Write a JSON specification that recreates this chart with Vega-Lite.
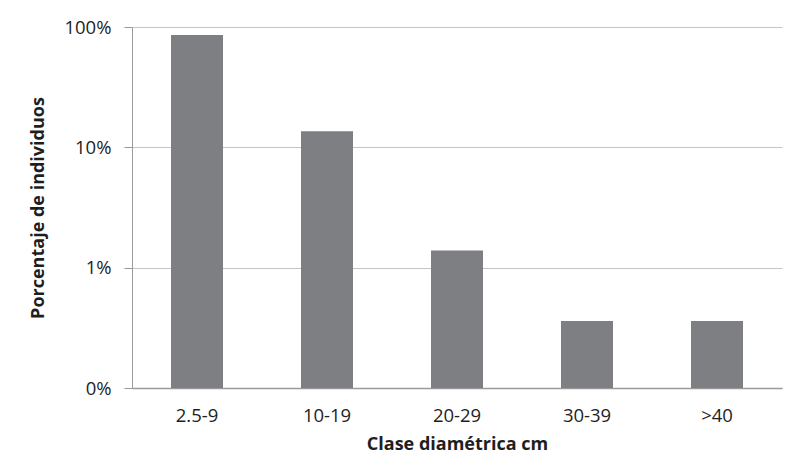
{
  "$schema": "https://vega.github.io/schema/vega-lite/v6.json",
  "width": 650,
  "height": 361,
  "autosize": {"type": "none"},
  "padding": {"left": 132, "top": 27, "right": 4, "bottom": 86},
  "background": "white",
  "data": {"values": [
    {"clase": "2.5-9", "pct": 0.858},
    {"clase": "10-19", "pct": 0.136},
    {"clase": "20-29", "pct": 0.0139},
    {"clase": "30-39", "pct": 0.0036},
    {"clase": ">40", "pct": 0.0036}
  ]},
  "mark": {"type": "bar", "color": "#7e7f83"},
  "encoding": {
    "x": {
      "field": "clase", "type": "nominal", "sort": null,
      "scale": {"paddingInner": 0.6, "paddingOuter": 0.3},
      "axis": {
        "title": "Clase diamétrica cm", "labelAngle": 0, "ticks": false,
        "labelFontSize": 18.5, "labelColor": "#1e1e1e", "labelPadding": 18,
        "titleFontSize": 18, "titleFontWeight": "bold", "titleColor": "#1e1e1e", "titlePadding": 11,
        "domainColor": "#9a9a9a", "domainWidth": 1.5, "grid": false,
        "labelFont": "Open Sans", "titleFont": "Open Sans"
      }
    },
    "y": {
      "field": "pct", "type": "quantitative",
      "scale": {"type": "log", "domain": [0.001, 1], "nice": false},
      "axis": {
        "title": "Porcentaje de individuos", "values": [0.001, 0.01, 0.1, 1], "format": ".0%",
        "labelFontSize": 18.5, "labelColor": "#1e1e1e", "labelPadding": 13,
        "tickSize": 8, "tickColor": "#9a9a9a",
        "titleFontSize": 18, "titleFontWeight": "bold", "titleColor": "#1e1e1e", "titlePadding": 16,
        "domainColor": "#9a9a9a", "gridColor": "#c4c4c4", "gridWidth": 1,
        "labelFont": "Open Sans", "titleFont": "Open Sans"
      }
    },
    "y2": {"datum": 0.001}
  },
  "config": {"view": {"stroke": null}}
}
